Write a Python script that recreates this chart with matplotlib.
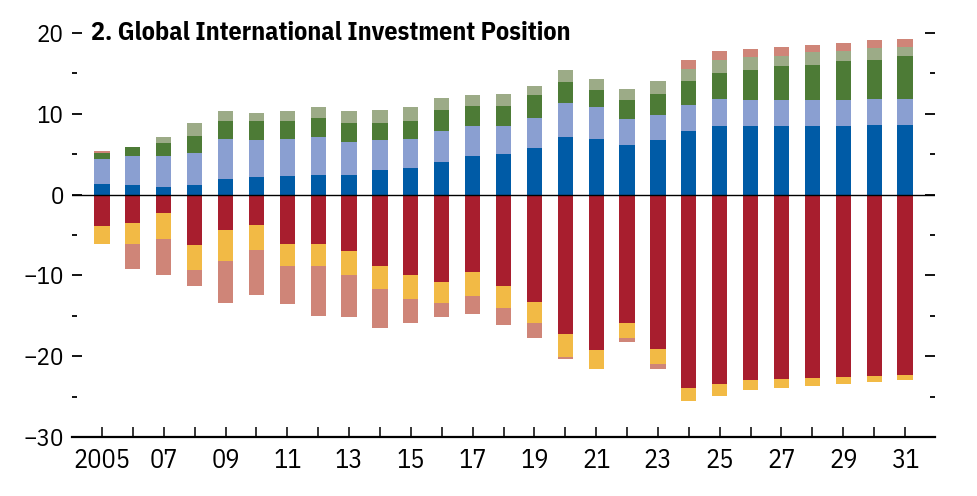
import matplotlib
matplotlib.use("Agg")
import matplotlib.pyplot as plt
from matplotlib.ticker import MultipleLocator
import numpy as np

plt.rcParams['font.family'] = ['IBM Plex Sans Condensed', 'Roboto Condensed', 'Liberation Sans', 'DejaVu Sans']

# 年次 (2005-2031)
years = list(range(2005, 2032))
year_labels = ["2005" if y == 2005 else ("%02d" % (y % 100) if (y - 2005) % 2 == 0 else "")
               for y in years]

# プラス側 (下から積み上げ)
blue = [1.36, 1.24, 0.99, 1.24, 1.98, 2.23, 2.35, 2.48, 2.48, 3.10, 3.35, 4.09, 4.83, 5.08,
        5.82, 7.19, 6.94, 6.20, 6.80, 7.93, 8.55, 8.55, 8.55, 8.55, 8.55, 8.67, 8.67]
light_blue = [3.10, 3.59, 3.84, 3.96, 4.96, 4.57, 4.59, 4.71, 4.09, 3.70, 3.59, 3.84, 3.60, 3.47,
              3.72, 4.11, 3.86, 3.10, 3.00, 3.22, 3.22, 3.10, 3.10, 3.10, 3.10, 3.10, 3.10]
green = [0.74, 1.02, 1.61, 2.10, 2.11, 2.25, 2.11, 2.23, 2.33, 2.00, 2.23, 2.57, 2.57, 2.45,
         2.73, 2.60, 2.10, 2.35, 2.70, 2.95, 3.33, 3.75, 4.21, 4.45, 4.85, 4.93, 5.33]
light_green = [0.00, 0.10, 0.63, 1.50, 1.35, 1.11, 1.35, 1.48, 1.50, 1.70, 1.73, 1.40, 1.30, 1.40,
               1.13, 1.50, 1.35, 1.45, 1.50, 1.50, 1.50, 1.60, 1.34, 1.50, 1.30, 1.40, 1.20]
salmon_pos = [0.15, 0, 0, 0, 0, 0, 0, 0, 0, 0, 0, 0, 0, 0,
              0, 0, 0, 0, 0, 1.10, 1.20, 0.97, 1.10, 0.86, 1.00, 1.00, 0.90]

# マイナス側 (上から積み下げ)
red = [-3.84, -3.47, -2.23, -6.20, -4.34, -3.72, -6.07, -6.07, -6.94, -8.80, -10.00, -10.80, -9.54, -11.30,
       -13.26, -17.20, -19.20, -15.86, -19.08, -23.90, -23.40, -22.90, -22.80, -22.70, -22.55, -22.40, -22.30]
yellow = [-2.23, -2.60, -3.22, -3.10, -3.84, -3.08, -2.73, -2.73, -3.06, -2.85, -2.90, -2.60, -2.96, -2.70,
          -2.60, -2.87, -2.36, -1.84, -1.86, -1.60, -1.50, -1.30, -1.10, -1.00, -0.85, -0.80, -0.60]
salmon_neg = [0, -3.18, -4.45, -2.00, -5.22, -5.60, -4.80, -6.20, -5.10, -4.85, -3.00, -1.80, -2.25, -2.10,
              -1.84, -0.23, 0, -0.50, -0.62, 0, 0, 0, 0, 0, 0, 0, 0]

y_ticks = [-30, -20, -10, 0, 10, 20]
y_labels = ["\u221230", "\u221220", "\u221210", "0", "10", "20"]

c_blue = "#005ba6"
c_lblue = "#8a9fd1"
c_green = "#4d7b36"
c_lgreen = "#9cab87"
c_salmon = "#cf8578"
c_red = "#a81e2e"
c_yellow = "#f2ba45"

fig = plt.figure(figsize=(9.77, 4.96), dpi=100)
ax = fig.add_axes([72/977, 59/496, (935-72)/977, (463-59)/496])

x = np.arange(len(years))
w = 0.49

bottom = np.zeros(len(years))
for vals, col in [(blue, c_blue), (light_blue, c_lblue), (green, c_green),
                  (light_green, c_lgreen), (salmon_pos, c_salmon)]:
    ax.bar(x, vals, w, bottom=bottom, color=col, lw=0)
    bottom = bottom + np.array(vals)

bottom = np.zeros(len(years))
for vals, col in [(red, c_red), (yellow, c_yellow), (salmon_neg, c_salmon)]:
    ax.bar(x, vals, w, bottom=bottom, color=col, lw=0)
    bottom = bottom + np.array(vals)

ax.axhline(0, color="black", lw=1.0)

ax.set_ylim(-30, 20)
ax.set_xlim(-0.97, len(years) - 0.03)

for s in ["left", "right", "top"]:
    ax.spines[s].set_visible(False)
ax.spines["bottom"].set_linewidth(1.6)

ax.set_xticks(x)
ax.set_xticklabels(year_labels, fontsize=19)
ax.tick_params(axis="x", direction="in", length=7.5, width=1.1, pad=8)

ax.yaxis.set_minor_locator(MultipleLocator(5))
ax.set_yticks(y_ticks)
ax.set_yticklabels(y_labels, fontsize=18)
ax.tick_params(axis="y", which="both", direction="in", left=True, right=True, width=1.3, pad=6)
ax.tick_params(axis="y", which="major", length=7.5)
ax.tick_params(axis="y", which="minor", length=3.6)

fig.text(91/977, 1 - 40/496, "2. Global International Investment Position",
         fontsize=18.7, fontweight="bold", va="baseline", ha="left")

fig.savefig("out.png", dpi=100)
